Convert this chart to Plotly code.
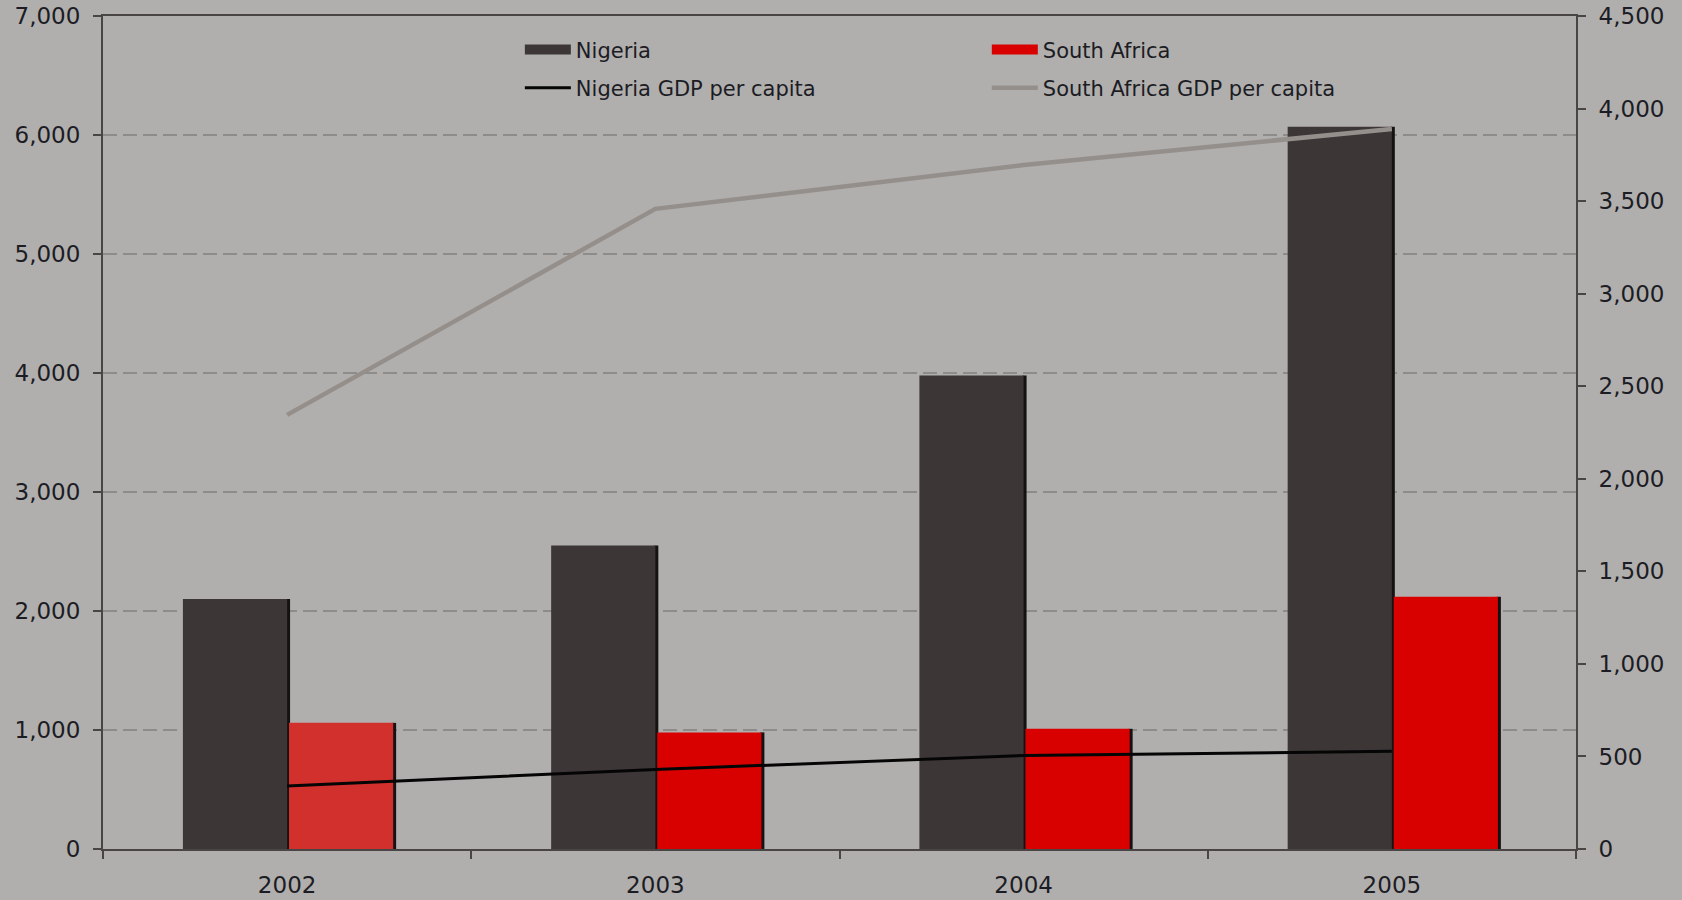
import plotly.graph_objects as go

# Years on the category axis
years = ["2002", "2003", "2004", "2005"]

# Bar series (left axis)
nigeria = [2100, 2550, 3980, 6070]
south_africa = [1060, 980, 1010, 2120]

# GDP per capita lines (right axis)
nigeria_gdp_pc = [340, 430, 505, 528]
south_africa_gdp_pc = [2345, 3458, 3695, 3890]

# Tick labels
left_ticks = [0, 1000, 2000, 3000, 4000, 5000, 6000, 7000]
right_ticks = [0, 500, 1000, 1500, 2000, 2500, 3000, 3500, 4000, 4500]

BG = "#b0afad"
AXIS = "#4a4545"
GRID = "#8e8c8a"
TEXT = "#1c1c24"
FONT = "DejaVu Sans"

NIG_COLOR = "#3c3636"
SA_COLORS = ["#d2302c", "#d90000", "#d90000", "#d90000"]
SA_LEGEND = "#d90000"
SHADOW = "#141212"

NIG_LINE = "#050505"
SA_LINE = "#958f8b"

bar_w = 0.283
nig_off = -0.283
sa_off = 0.005
shadow_w = 0.011

fig = go.Figure()

# thin drop shadows on the right side of each bar
fig.add_trace(go.Bar(x=years, y=nigeria, offset=nig_off + bar_w - 0.003, width=shadow_w,
                     marker=dict(color=SHADOW, line=dict(width=0)), showlegend=False,
                     hoverinfo="skip"))
fig.add_trace(go.Bar(x=years, y=south_africa, offset=sa_off + bar_w - 0.003, width=shadow_w,
                     marker=dict(color=SHADOW, line=dict(width=0)), showlegend=False,
                     hoverinfo="skip"))

fig.add_trace(go.Bar(x=years, y=nigeria, name="Nigeria", offset=nig_off, width=bar_w,
                     marker=dict(color=NIG_COLOR, line=dict(width=0)), showlegend=False))
fig.add_trace(go.Bar(x=years, y=south_africa, name="South Africa", offset=sa_off, width=bar_w,
                     marker=dict(color=SA_COLORS, line=dict(width=0)), showlegend=False))

fig.add_trace(go.Scatter(x=years, y=nigeria_gdp_pc, name="Nigeria GDP per capita", yaxis="y2",
                         mode="lines", line=dict(color=NIG_LINE, width=3),
                         legend="legend", legendgroup="b", legendrank=2))
fig.add_trace(go.Scatter(x=years, y=south_africa_gdp_pc, name="South Africa GDP per capita",
                         yaxis="y2", mode="lines", line=dict(color=SA_LINE, width=4.5),
                         legend="legend2", legendgroup="d", legendrank=2))

# wide block swatches for the bar series in the legend
fig.add_trace(go.Scatter(x=[None], y=[None], name="Nigeria", mode="lines",
                         line=dict(color=NIG_COLOR, width=10),
                         legend="legend", legendgroup="a", legendrank=1))
fig.add_trace(go.Scatter(x=[None], y=[None], name="South Africa", mode="lines",
                         line=dict(color=SA_LEGEND, width=10),
                         legend="legend2", legendgroup="c", legendrank=1))

legend_common = dict(
    bgcolor="rgba(0,0,0,0)",
    font=dict(family=FONT, size=21, color=TEXT),
    itemwidth=46,
    tracegroupgap=8,
    xanchor="left",
    yanchor="top",
    orientation="v",
)

tick_font = dict(family=FONT, size=23, color=TEXT)

fig.update_layout(
    width=1682,
    height=900,
    margin=dict(l=103, r=106, t=16, b=51),
    paper_bgcolor=BG,
    plot_bgcolor=BG,
    barmode="overlay",
    font=dict(family=FONT, size=22, color=TEXT),
    legend=dict(x=0.283, y=0.984, **legend_common),
    legend2=dict(x=0.600, y=0.984, **legend_common),
    xaxis=dict(
        type="category",
        categoryorder="array",
        categoryarray=years,
        range=[-0.5, 3.5],
        tickson="boundaries",
        ticks="outside",
        ticklen=8,
        tickwidth=2,
        tickcolor=AXIS,
        showline=True,
        linecolor=AXIS,
        linewidth=2,
        mirror=True,
        showgrid=False,
        automargin=False,
        ticklabelstandoff=14,
        tickfont=tick_font,
    ),
    yaxis=dict(
        range=[0, 7000],
        tickvals=left_ticks,
        tickformat=",d",
        ticks="outside",
        ticklen=8,
        tickwidth=2,
        tickcolor=AXIS,
        showline=True,
        linecolor=AXIS,
        linewidth=2,
        showgrid=True,
        gridcolor=GRID,
        gridwidth=2,
        griddash="14px,6px",
        zeroline=False,
        automargin=False,
        ticklabelstandoff=8,
        tickfont=tick_font,
    ),
    yaxis2=dict(
        overlaying="y",
        side="right",
        range=[0, 4500],
        tickvals=right_ticks,
        tickformat=",d",
        ticks="outside",
        ticklen=8,
        tickwidth=2,
        tickcolor=AXIS,
        showline=True,
        linecolor=AXIS,
        linewidth=2,
        showgrid=False,
        zeroline=False,
        automargin=False,
        ticklabelstandoff=8,
        tickfont=tick_font,
    ),
)

fig.write_html("out.html")
